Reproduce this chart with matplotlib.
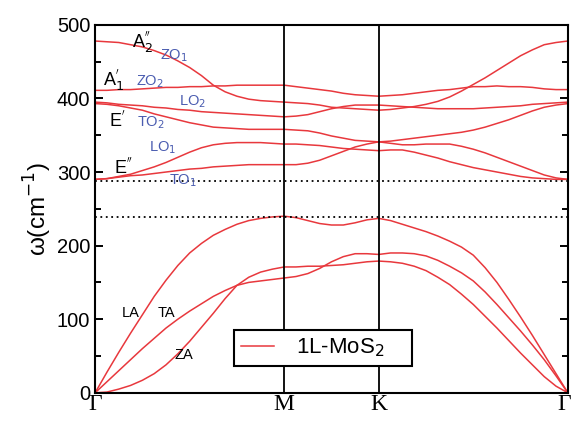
import matplotlib
matplotlib.use("Agg")
import matplotlib.pyplot as plt
import matplotlib.transforms as mtransforms
from matplotlib.ticker import MultipleLocator

# path coordinate (fraction of the Gamma-M-K-Gamma path as drawn)
q = [0.0, 0.025, 0.05, 0.075, 0.1, 0.125, 0.15, 0.175, 0.2, 0.225,
     0.25, 0.275, 0.3, 0.325, 0.35, 0.375, 0.4,
     0.425, 0.45, 0.475, 0.5, 0.525, 0.55, 0.575, 0.6,
     0.625, 0.65, 0.675, 0.7, 0.725, 0.75, 0.775, 0.8, 0.825,
     0.85, 0.875, 0.9, 0.925, 0.95, 0.975, 1.0]
q_ticks = [0.0, 0.4, 0.6, 1.0]
q_labels = ["Γ", "M", "K", "Γ"]

# phonon branches, cm^-1 (Gamma-M | M-K | K-Gamma)
la = [0, 28, 55, 81, 106, 131, 153, 173, 190, 203, 214, 222, 229, 234, 237, 239, 240,
      238, 234, 230, 228, 228, 231, 235, 237,
      234, 229, 224, 219, 213, 206, 198, 187, 170, 150, 127, 103, 78, 52, 26, 0]
ta = [0, 15, 30, 45, 60, 74, 88, 100, 111, 121, 131, 139, 146, 150, 152, 154, 156,
      158, 162, 169, 178, 185, 189, 189, 188,
      190, 190, 189, 186, 180, 172, 163, 152, 137, 120, 102, 84, 65, 45, 23, 0]
za = [0, 1, 5, 10, 17, 26, 38, 53, 70, 89, 108, 128, 146, 157, 164, 168, 171,
      171, 172, 172, 173, 174, 176, 178, 179,
      178, 176, 172, 166, 157, 147, 134, 120, 104, 88, 71, 54, 38, 22, 9, 0]
to1 = [290, 291, 293, 295, 296, 298, 300, 302, 304, 305, 307, 308, 309, 310, 310, 310, 310,
       310, 312, 316, 322, 328, 334, 338, 341,
       339, 337, 337, 338, 338, 338, 335, 331, 326, 320, 314, 308, 302, 296, 292, 290]
lo1 = [290, 291, 294, 297, 302, 307, 313, 320, 327, 333, 337, 339, 340, 340, 340, 339, 338,
       338, 337, 336, 334, 332, 331, 330, 329,
       330, 330, 327, 323, 319, 314, 310, 306, 303, 300, 297, 294, 292, 291, 290, 290]
to2 = [393, 392, 390, 387, 384, 379, 375, 371, 367, 364, 361, 360, 359, 358, 358, 358, 358,
       357, 356, 353, 349, 346, 343, 342, 341,
       342, 344, 346, 348, 350, 352, 354, 357, 361, 366, 371, 377, 383, 388, 391, 393]
lo2 = [395, 394, 392, 391, 390, 388, 387, 385, 384, 382, 381, 380, 379, 378, 377, 376, 375,
       376, 378, 382, 386, 389, 391, 391, 391,
       390, 389, 388, 387, 386, 386, 386, 386, 387, 388, 389, 390, 392, 393, 394, 395]
zo2 = [411, 411, 412, 412, 413, 414, 415, 415, 416, 416, 417, 417, 418, 418, 418, 418, 418,
       416, 414, 412, 410, 407, 405, 404, 403,
       404, 405, 407, 409, 411, 412, 414, 416, 416, 417, 416, 416, 415, 413, 412, 412]
zo1 = [478, 477, 476, 473, 470, 465, 459, 451, 442, 431, 418, 409, 403, 399, 397, 396, 395,
       394, 393, 391, 388, 387, 386, 385, 384,
       385, 387, 389, 392, 396, 402, 410, 419, 428, 438, 448, 458, 466, 473, 476, 478]
branches = [la, ta, za, to1, lo1, to2, lo2, zo2, zo1]

gap_levels = [288, 239]

mode_labels = ["A$_2^{''}$", "A$_1^{'}$", "E$^{'}$", "E$^{''}$"]
mode_pos = [(0.10, 477), (0.038, 425), (0.047, 370), (0.061, 306)]
branch_labels = ["ZO$_1$", "ZO$_2$", "LO$_2$", "TO$_2$", "LO$_1$", "TO$_1$"]
branch_pos = [(0.167, 458), (0.116, 423), (0.207, 395), (0.118, 367),
              (0.143, 333), (0.186, 288)]
acoustic_labels = ["LA", "TA", "ZA"]
acoustic_pos = [(0.076, 109), (0.150, 109), (0.188, 52)]

red = "#e8383d"
blue = "#4a5cb0"

fig = plt.figure(figsize=(5.73, 4.21), dpi=100)
ax = fig.add_axes([0.166, 0.067, 0.825, 0.874])

for i, band in enumerate(branches):
    ax.plot(q, band, color=red, lw=1.1,
            label="1L-MoS$_2$    " if i == 0 else None)

for level in gap_levels:
    ax.axhline(level, color="black", ls=(0, (1, 2)), lw=1.3)
for xv in q_ticks[1:3]:
    ax.axvline(xv, color="black", lw=1.3)

for txt, (x, y) in zip(mode_labels, mode_pos):
    ax.text(x, y, txt, fontsize=13, ha="center", va="center", family="Liberation Sans")
for txt, (x, y) in zip(branch_labels, branch_pos):
    ax.text(x, y, txt, fontsize=10.5, color=blue, ha="center", va="center",
            family="Liberation Sans")
for txt, (x, y) in zip(acoustic_labels, acoustic_pos):
    ax.text(x, y, txt, fontsize=10.5, ha="center", va="center", family="Liberation Sans")

ax.set_xlim(0, 1)
ax.set_ylim(0, 500)
ax.set_xticks(q_ticks)
ax.set_xticklabels(q_labels, family="Liberation Serif", fontsize=17)
ax.tick_params(axis="x", length=0, pad=1)
# the last Gamma sits on the figure edge: nudge it left so it stays whole
last = ax.get_xticklabels()[-1]
last.set_transform(last.get_transform()
                   + mtransforms.ScaledTranslation(-4 / 100, 0, fig.dpi_scale_trans))
ax.yaxis.set_major_locator(MultipleLocator(100))
ax.yaxis.set_minor_locator(MultipleLocator(50))
ax.tick_params(axis="y", which="both", direction="in", left=True, right=True,
               width=1.4, labelsize=14.5)
ax.tick_params(axis="y", which="major", length=5.5)
ax.tick_params(axis="y", which="minor", length=4)
for lab in ax.get_yticklabels():
    lab.set_family("Liberation Sans")
for s in ax.spines.values():
    s.set_linewidth(1.5)

ax.set_ylabel("ω(cm$^{-1}$)", fontsize=17.5, family="Liberation Sans", labelpad=2)

leg = ax.legend(loc="lower left", bbox_to_anchor=(0.294, 0.073), fontsize=16,
                fancybox=False, edgecolor="black", handlelength=1.5,
                borderpad=0.3, handletextpad=1.0, borderaxespad=0)
leg.get_frame().set_linewidth(1.5)
leg.get_frame().set_alpha(1)
for t in leg.get_texts():
    t.set_family("Liberation Sans")

fig.savefig("out.png", dpi=100)
